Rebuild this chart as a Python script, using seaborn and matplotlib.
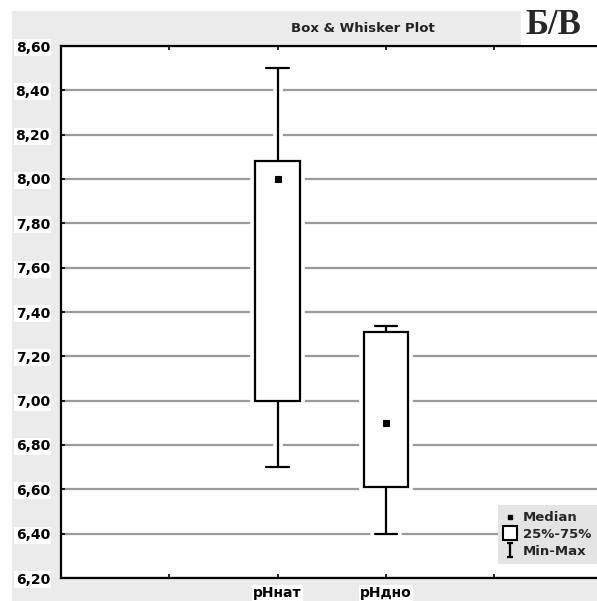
import matplotlib
matplotlib.use("Agg")
import matplotlib.pyplot as plt
import seaborn as sns
import pandas as pd
from matplotlib.lines import Line2D
from matplotlib.patches import Rectangle
from matplotlib.path import Path
from matplotlib.ticker import FuncFormatter, FixedLocator

# ---- data ----
categories = ["pHнат", "pHдно"]
mins = [6.70, 6.40]
q1s = [7.00, 6.61]
medians = [8.00, 6.90]
q3s = [8.08, 7.31]
maxs = [8.50, 7.335]
y_ticks = [6.20, 6.40, 6.60, 6.80, 7.00, 7.20, 7.40, 7.60, 7.80, 8.00, 8.20, 8.40, 8.60]
title = "Box & Whisker Plot"
panel_label = "Б/В"
legend_labels = ["Median", "25%-75%", "Min-Max"]

rows = []
for c, a, b, m, d, e in zip(categories, mins, q1s, medians, q3s, maxs):
    for v in (a, b, m, d, e):
        rows.append({"group": c, "pH": v})
df = pd.DataFrame(rows)

sns.set_theme(style="white")
plt.rcParams["font.family"] = ["DejaVu Sans"]
plt.rcParams["font.weight"] = "bold"

W, H = 597, 601
fig = plt.figure(figsize=(W / 100, H / 100), dpi=100, facecolor="white")
# gray panel background
fig.patches.append(Rectangle((12 / W, 0), 1 - 12 / W, 1 - 11 / H, transform=fig.transFigure,
                             facecolor="#ebebeb", edgecolor="none", zorder=-10))

ax = fig.add_axes([61 / W, (H - 578) / H, (W - 61) / W, (578 - 46) / H])
ax.set_facecolor("white")
ax.set_axisbelow(True)
ax.yaxis.grid(True, color="#9a9a9a", linewidth=1.6)
ax.xaxis.grid(False)

common = dict(data=df, x="group", y="pH", order=categories, whis=(0, 100), width=0.41,
              color="white", saturation=1, fill=True, ax=ax,
              medianprops={"visible": False})
# white halo layer (interrupts the grid lines around boxes and whiskers)
sns.boxplot(linecolor="white", linewidth=7, **common)
# actual boxes
sns.boxplot(linecolor="black", linewidth=1.6, **common)

ax.plot(range(len(categories)), medians, "s", ms=4.2, mfc="black", mec="black", mew=0.8, zorder=6)

ax.set_xlim(-2.0, 2.95)
ax.set_ylim(6.2, 8.6)
ax.set_xlabel("")
ax.set_ylabel("")
ax.xaxis.set_major_locator(FixedLocator([-1, 0, 1, 2]))
ax.set_xticklabels([""] + categories + [""])
ax.yaxis.set_major_locator(FixedLocator(y_ticks))
ax.yaxis.set_major_formatter(FuncFormatter(lambda v, p: f"{v:.2f}".replace(".", ",")))

ax.tick_params(axis="both", direction="in", length=3, width=1.2, colors="black",
               labelsize=10, top=True, bottom=True, left=True, right=False)
ax.tick_params(axis="y", pad=8)
ax.tick_params(axis="x", pad=6)
for lab in ax.get_yticklabels() + ax.get_xticklabels():
    lab.set_fontweight("bold")
    lab.set_bbox(dict(facecolor="white", edgecolor="none", pad=1.0))

for side in ["left", "bottom", "top"]:
    ax.spines[side].set_visible(True)
    ax.spines[side].set_color("black")
    ax.spines[side].set_linewidth(1.6)
ax.spines["right"].set_visible(False)

# title
fig.text(363 / W, 1 - 28 / H, title, ha="center", va="center", fontsize=9.5,
         fontweight="bold", color="#222222")
# white box with panel label
fig.patches.append(Rectangle((521 / W, 1 - 45 / H), (W - 521) / W, 45 / H,
                             transform=fig.transFigure, facecolor="white",
                             edgecolor="none", zorder=5))
fig.text(553 / W, 1 - 25 / H, panel_label, ha="center", va="center", fontsize=25,
         fontweight="bold", family=["Liberation Serif", "DejaVu Serif"], zorder=6)

# legend
minmax_path = Path([(-0.5, 1), (0.5, 1), (0, 1), (0, -1), (-0.5, -1), (0.5, -1)],
                   [Path.MOVETO, Path.LINETO, Path.MOVETO, Path.LINETO, Path.MOVETO, Path.LINETO])
handles = [
    Line2D([], [], ls="none", marker="s", ms=3.5, mfc="black", mec="black"),
    Line2D([], [], ls="none", marker="s", ms=10, mfc="white", mec="black", mew=1.5),
    Line2D([], [], ls="none", marker=minmax_path, ms=10, mec="black", mew=1.6),
]
leg = fig.legend(handles, legend_labels, loc="lower right",
                 bbox_to_anchor=(1.0, 1 - 564 / H), bbox_transform=fig.transFigure,
                 frameon=True, fancybox=False, fontsize=9.5, handlelength=1.0,
                 handletextpad=0.45, labelspacing=0.3, borderpad=0.45, borderaxespad=0.0)
leg.get_frame().set_facecolor("#e4e4e4")
leg.get_frame().set_edgecolor("none")
leg.get_frame().set_alpha(1)
for t in leg.get_texts():
    t.set_fontweight("bold")

fig.savefig("out.png", dpi=100, facecolor=fig.get_facecolor())
